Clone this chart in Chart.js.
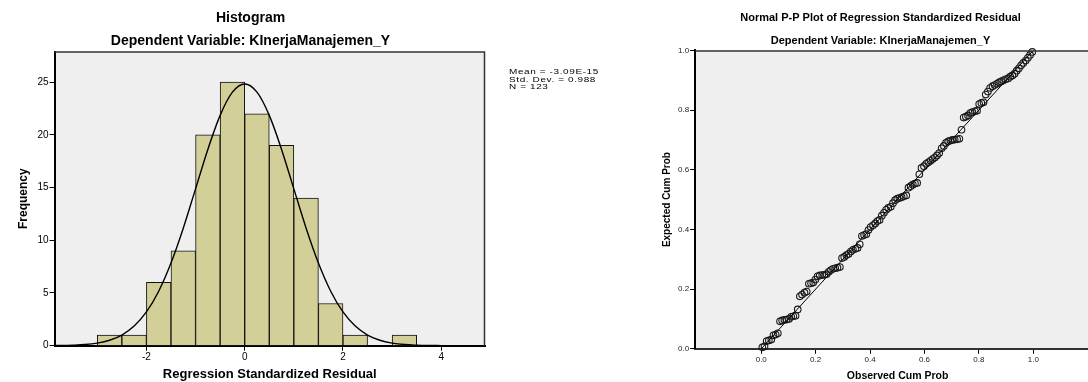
<!DOCTYPE html>
<html>
<head>
<meta charset="utf-8">
<script src="https://cdn.jsdelivr.net/npm/chart.js@4/dist/chart.umd.min.js"></script>
<style>
  html, body { margin: 0; padding: 0; background: #fff; }
  #page { position: relative; width: 1088px; height: 382px; overflow: hidden; }
  #hist { position: absolute; left: 0; top: 0; }
  #pp { position: absolute; left: 640px; top: 0; }
  #stats {
    position: absolute; left: 509px; top: 68px;
    font-family: 'Liberation Sans', Arial, sans-serif;
    font-size: 10px; line-height: 9px; color: #000; letter-spacing: 0.6px;
    white-space: pre;
    transform: scale(1, 0.8); transform-origin: 0 0;
  }
</style>
</head>
<body>
<div id="page">
  <canvas id="hist" width="640" height="382"></canvas>
  <canvas id="pp" width="476" height="382"></canvas>
  <div id="stats">Mean = -3.09E-15
Std. Dev. = 0.988
N = 123</div>
</div>
<script>
// Histogram data (bin width 0.5)
const binCenters = [-2.75, -2.25, -1.75, -1.25, -0.75, -0.25, 0.25, 0.75, 1.25, 1.75, 2.25, 2.75, 3.25];
const binCounts  = [1, 1, 6, 9, 20, 25, 22, 19, 14, 4, 1, 0, 1];

// normal curve overlay
const curveX = [-4, -3.75, -3.5, -3.25, -3, -2.75, -2.5, -2.25, -2, -1.75, -1.5, -1.25, -1, -0.75, -0.5, -0.25,
                0, 0.25, 0.5, 0.75, 1, 1.25, 1.5, 1.75, 2, 2.25, 2.5, 2.75, 3, 3.25, 3.5, 3.75, 4, 4.25, 4.5, 4.75, 5];
const curveY = [0.01, 0.02, 0.05, 0.11, 0.25, 0.52, 1.01, 1.86, 3.20, 5.17, 7.84, 11.15, 14.88, 18.62, 21.85, 24.05,
                24.83, 24.05, 21.85, 18.62, 14.88, 11.15, 7.84, 5.17, 3.20, 1.86, 1.01, 0.52, 0.25, 0.11, 0.05, 0.02, 0.01, 0, 0, 0, 0];

const histXTicks = [-2, 0, 2, 4];
const histYTicks = [0, 5, 10, 15, 20, 25];

// P-P plot data
const observedCumProb = [
  0.004, 0.012, 0.020, 0.028, 0.037, 0.045, 0.053, 0.061, 0.069, 0.077,
  0.085, 0.093, 0.102, 0.110, 0.118, 0.126, 0.134, 0.142, 0.150, 0.159,
  0.167, 0.175, 0.183, 0.191, 0.199, 0.207, 0.215, 0.224, 0.232, 0.240,
  0.248, 0.256, 0.264, 0.272, 0.280, 0.289, 0.297, 0.305, 0.313, 0.321,
  0.329, 0.337, 0.346, 0.354, 0.362, 0.370, 0.378, 0.386, 0.394, 0.402,
  0.411, 0.419, 0.427, 0.435, 0.443, 0.451, 0.459, 0.467, 0.476, 0.484,
  0.492, 0.500, 0.508, 0.516, 0.524, 0.533, 0.541, 0.549, 0.557, 0.565,
  0.573, 0.581, 0.589, 0.598, 0.606, 0.614, 0.622, 0.630, 0.638, 0.646,
  0.654, 0.663, 0.671, 0.679, 0.687, 0.695, 0.703, 0.711, 0.720, 0.728,
  0.736, 0.744, 0.752, 0.760, 0.768, 0.776, 0.785, 0.793, 0.801, 0.809,
  0.817, 0.825, 0.833, 0.841, 0.850, 0.858, 0.866, 0.874, 0.882, 0.890,
  0.898, 0.907, 0.915, 0.923, 0.931, 0.939, 0.947, 0.955, 0.963, 0.972,
  0.980, 0.988, 0.996
];
const expectedCumProb = [
  0.005, 0.008, 0.026, 0.028, 0.031, 0.045, 0.048, 0.052, 0.092, 0.095,
  0.097, 0.098, 0.100, 0.107, 0.109, 0.111, 0.132, 0.176, 0.182, 0.188,
  0.192, 0.218, 0.220, 0.222, 0.232, 0.243, 0.246, 0.247, 0.248, 0.250,
  0.258, 0.264, 0.268, 0.270, 0.272, 0.274, 0.304, 0.308, 0.314, 0.318,
  0.326, 0.332, 0.335, 0.338, 0.350, 0.378, 0.381, 0.384, 0.398, 0.408,
  0.414, 0.420, 0.428, 0.432, 0.446, 0.456, 0.466, 0.472, 0.476, 0.488,
  0.498, 0.503, 0.505, 0.508, 0.511, 0.514, 0.540, 0.545, 0.550, 0.554,
  0.556, 0.585, 0.606, 0.612, 0.620, 0.625, 0.630, 0.636, 0.641, 0.648,
  0.656, 0.672, 0.680, 0.690, 0.695, 0.698, 0.700, 0.701, 0.702, 0.704,
  0.734, 0.775, 0.778, 0.782, 0.790, 0.793, 0.796, 0.798, 0.820, 0.824,
  0.826, 0.852, 0.862, 0.874, 0.880, 0.884, 0.888, 0.893, 0.896, 0.900,
  0.903, 0.906, 0.912, 0.916, 0.922, 0.932, 0.940, 0.950, 0.958, 0.966,
  0.975, 0.985, 0.995
];
const refLineX = [0, 1];
const refLineY = [0, 1];
const ppTicks = [0, 0.2, 0.4, 0.6, 0.8, 1.0];

const FONT = "'Liberation Sans', Arial, sans-serif";

// grey plot background + frame, like SPSS
const plotFrame = {
  id: 'plotFrame',
  beforeDraw(chart) {
    const a = chart.chartArea, c = chart.ctx;
    c.save();
    c.fillStyle = '#efefef';
    c.fillRect(a.left, a.top, a.right - a.left, a.bottom - a.top);
    c.restore();
  },
  afterDraw(chart) {
    const a = chart.chartArea, c = chart.ctx;
    c.save();
    c.strokeStyle = '#333';
    c.lineWidth = 1.5;
    c.beginPath();
    c.moveTo(a.left, a.top + 0.5);
    c.lineTo(a.right - 0.5, a.top + 0.5);
    c.lineTo(a.right - 0.5, a.bottom);
    c.stroke();
    c.restore();
  }
};

function axis(opts) {
  return Object.assign({
    type: 'linear',
    offset: false,
    grid: { display: true, offset: false, drawOnChartArea: false, drawTicks: true, tickLength: 5, color: '#000' },
    border: { display: true, color: '#000', width: 2 }
  }, opts);
}

// Histogram
new Chart(document.getElementById('hist'), {
  type: 'bar',
  data: {
    datasets: [
      {
        type: 'line',
        data: curveX.map((x, i) => ({ x: x, y: curveY[i] })),
        borderColor: '#000',
        borderWidth: 1.4,
        pointRadius: 0,
        cubicInterpolationMode: 'monotone',
        order: 0
      },
      {
        data: binCenters.map((x, i) => ({ x: x, y: binCounts[i] })),
        backgroundColor: '#d3cf99',
        borderColor: '#111',
        borderWidth: 1,
        barPercentage: 1,
        categoryPercentage: 1,
        order: 1
      }
    ]
  },
  options: {
    responsive: false,
    animation: false,
    devicePixelRatio: 1,
    layout: { padding: { left: 16, right: 155, top: 0, bottom: 0 } },
    plugins: {
      legend: { display: false },
      tooltip: { enabled: false },
      title: {
        display: true, text: 'Histogram', color: '#000',
        font: { family: FONT, size: 14, weight: 'bold' },
        padding: { top: 10, bottom: 4 }
      },
      subtitle: {
        display: true, text: 'Dependent Variable: KInerjaManajemen_Y', color: '#000',
        font: { family: FONT, size: 14, weight: 'bold' },
        padding: { top: 2, bottom: 2 }
      }
    },
    scales: {
      x: axis({
        min: -3.87, max: 4.89,
        afterBuildTicks: s => { s.ticks = histXTicks.map(v => ({ value: v })); },
        ticks: { color: '#000', padding: 1, font: { family: FONT, size: 10 } },
        title: {
          display: true, text: 'Regression Standardized Residual', color: '#000',
          font: { family: FONT, size: 13, weight: 'bold', lineHeight: 1.1 },
          padding: { top: 3, bottom: 0 }
        }
      }),
      y: axis({
        min: 0, max: 27.9,
        afterBuildTicks: s => { s.ticks = histYTicks.map(v => ({ value: v })); },
        ticks: { color: '#000', padding: 1, font: { family: FONT, size: 10 } },
        title: {
          display: true, text: 'Frequency', color: '#000',
          font: { family: FONT, size: 12, weight: 'bold' },
          padding: { top: 0, bottom: 6 }
        }
      })
    }
  },
  plugins: [plotFrame]
});

// Normal P-P plot
new Chart(document.getElementById('pp'), {
  type: 'scatter',
  data: {
    datasets: [
      {
        type: 'line',
        data: refLineX.map((x, i) => ({ x: x, y: refLineY[i] })),
        borderColor: '#000',
        borderWidth: 1,
        pointRadius: 0
      },
      {
        data: observedCumProb.map((x, i) => ({ x: x, y: expectedCumProb[i] })),
        pointRadius: 3.3,
        pointBorderWidth: 1.1,
        borderColor: '#1a1a1a',
        backgroundColor: 'rgba(0,0,0,0)',
        clip: 4
      }
    ]
  },
  options: {
    responsive: false,
    animation: false,
    devicePixelRatio: 1,
    layout: { padding: { left: 21, right: 16, top: 0, bottom: 0 } },
    plugins: {
      legend: { display: false },
      tooltip: { enabled: false },
      title: {
        display: true, text: 'Normal P-P Plot of Regression Standardized Residual', color: '#000',
        font: { family: FONT, size: 11, weight: 'bold' },
        padding: { top: 11, bottom: 5 }
      },
      subtitle: {
        display: true, text: 'Dependent Variable: KInerjaManajemen_Y', color: '#000',
        font: { family: FONT, size: 11, weight: 'bold' },
        padding: { top: 5, bottom: 3 }
      }
    },
    scales: {
      x: axis({
        min: -0.243, max: 1.245,
        afterBuildTicks: s => { s.ticks = ppTicks.map(v => ({ value: v })); },
        ticks: { color: '#222', padding: 1, font: { family: FONT, size: 8 }, callback: v => v.toFixed(1) },
        border: { display: true, color: '#333', width: 2 },
        title: {
          display: true, text: 'Observed Cum Prob', color: '#000',
          font: { family: FONT, size: 10.5, weight: 'bold' },
          padding: { top: 4, bottom: 0 }
        }
      }),
      y: axis({
        min: 0, max: 1,
        afterBuildTicks: s => { s.ticks = ppTicks.map(v => ({ value: v })); },
        ticks: { color: '#222', padding: 1, font: { family: FONT, size: 8 }, callback: v => v.toFixed(1) },
        title: {
          display: true, text: 'Expected Cum Prob', color: '#000',
          font: { family: FONT, size: 10, weight: 'bold' },
          padding: { top: 0, bottom: 4 }
        }
      })
    }
  },
  plugins: [plotFrame]
});
</script>
</body>
</html>
